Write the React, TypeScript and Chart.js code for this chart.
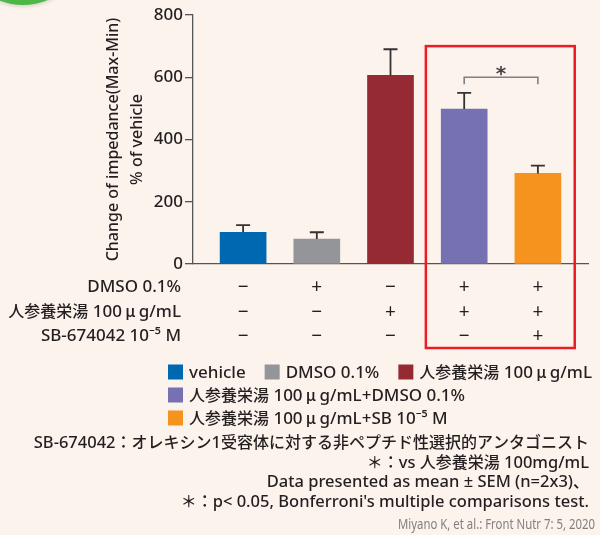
import React, { useEffect, useRef } from "react";
import { Chart, registerables } from "chart.js";
Chart.register(...registerables);

// ---- data ----
const groups = [
  "vehicle",
  "DMSO 0.1%",
  "人参養栄湯 100μg/mL",
  "人参養栄湯 100μg/mL+DMSO 0.1%",
  "人参養栄湯 100μg/mL+SB 10⁻⁵ M",
];
const means = [102, 80, 606, 498, 291];
const sems = [23, 22, 84, 52, 25];
const colors = ["#0067B1", "#939598", "#962A33", "#7672B2", "#F6921E"];
const yTicks = [0, 200, 400, 600, 800];
const yTitle = ["Change of impedance(Max-Min)", "% of vehicle"];
const rowLabels = ["DMSO 0.1%", "人参養栄湯 100μg/mL", "SB-674042 10⁻⁵ M"];
const dmsoRow = ["−", "+", "−", "+", "+"];
const extractRow = ["−", "−", "+", "+", "+"];
const sbRow = ["−", "−", "−", "−", "+"];
const legendRows = [[0, 1, 2], [3], [4]];
const sigPair = [3, 4];
const sigLevel = 600;
const sigMark = "*";
const boxRange = [2.48, 4.5];
const boxTopValue = 700;
const notes = [
  "SB-674042：オレキシン1受容体に対する非ペプチド性選択的アンタゴニスト",
  "＊：vs 人参養栄湯 100mg/mL",
  "Data presented as mean ± SEM (n=2x3)、",
  "＊：p< 0.05, Bonferroni's multiple comparisons test.",
];
const citation = "Miyano K, et al.: Front Nutr 7: 5, 2020";

const LATIN = "'Noto Sans', 'Noto Sans CJK JP', sans-serif";
const CJK = "'Noto Sans CJK JP', 'Noto Sans', sans-serif";
const TEXT = "#231F20";
const W = "500";

function kind(ch: string) {
  if (ch === "μ") return 2;
  return ch.charCodeAt(0) >= 0x3000 ? 1 : 0;
}

function drawRich(
  ctx: CanvasRenderingContext2D,
  text: string,
  x: number,
  baseline: number,
  align: "left" | "right" | "center",
  latinSize: number,
  cjkSize: number,
  color: string
) {
  const runs: { t: string; k: number; w: number }[] = [];
  for (const ch of Array.from(text)) {
    const k = kind(ch);
    const last = runs[runs.length - 1];
    if (last && last.k === k && k !== 2) last.t += ch;
    else runs.push({ t: ch, k, w: 0 });
  }
  const fontOf = (r: { k: number }) =>
    r.k === 0 ? `${W} ${latinSize}px ${LATIN}` : `${W} ${cjkSize}px ${CJK}`;
  let total = 0;
  for (const r of runs) {
    ctx.font = fontOf(r);
    r.w = r.k === 2 ? cjkSize * 1.05 : ctx.measureText(r.t).width;
    total += r.w;
  }
  let cx = align === "right" ? x - total : align === "center" ? x - total / 2 : x;
  ctx.textBaseline = "alphabetic";
  ctx.fillStyle = color;
  for (const r of runs) {
    ctx.font = fontOf(r);
    if (r.k === 2) {
      ctx.textAlign = "center";
      ctx.fillText(r.t, cx + r.w / 2, baseline);
    } else {
      ctx.textAlign = "left";
      ctx.fillText(r.t, cx, baseline);
    }
    cx += r.w;
  }
  return total;
}

const decor = {
  id: "decor",
  beforeDraw(chart: any) {
    const { ctx, width, height } = chart;
    ctx.save();
    ctx.fillStyle = "#FCF3ED";
    ctx.fillRect(0, 0, width, height);
    ctx.shadowColor = "rgba(0,0,0,0.18)";
    ctx.shadowBlur = 4;
    ctx.shadowOffsetY = 1;
    ctx.fillStyle = "#4DB748";
    ctx.beginPath();
    ctx.arc(23, -60, 65, 0, Math.PI * 2);
    ctx.fill();
    ctx.restore();
  },
  afterDatasetsDraw(chart: any) {
    const { ctx, scales, chartArea } = chart;
    const x = scales.x;
    const y = scales.y;
    const meta = chart.getDatasetMeta(0);
    ctx.save();
    // error bars
    ctx.strokeStyle = "#333";
    ctx.lineWidth = 1.8;
    meta.data.forEach((bar: any, i: number) => {
      const top = y.getPixelForValue(means[i] + sems[i]);
      const base = y.getPixelForValue(means[i]);
      ctx.beginPath();
      ctx.moveTo(bar.x, base);
      ctx.lineTo(bar.x, top);
      ctx.moveTo(bar.x - 7, top);
      ctx.lineTo(bar.x + 7, top);
      ctx.stroke();
    });
    // significance bracket
    const x1 = meta.data[sigPair[0]].x;
    const x2 = meta.data[sigPair[1]].x;
    const by = y.getPixelForValue(sigLevel);
    ctx.strokeStyle = "#808080";
    ctx.lineWidth = 1.6;
    ctx.beginPath();
    ctx.moveTo(x1, by + 7);
    ctx.lineTo(x1, by);
    ctx.lineTo(x2, by);
    ctx.lineTo(x2, by + 7);
    ctx.stroke();
    ctx.font = `bold 20px 'DejaVu Sans', ${LATIN}`;
    ctx.textAlign = "center";
    ctx.textBaseline = "alphabetic";
    ctx.fillStyle = "#444";
    ctx.fillText(sigMark, (x1 + x2) / 2, by + 3);
    // red highlight box
    const bl = x.getPixelForValue(boxRange[0]);
    const br = x.getPixelForValue(boxRange[1]);
    const bt = y.getPixelForValue(boxTopValue);
    const bb = chartArea.bottom + 84;
    ctx.strokeStyle = "#EC1C24";
    ctx.lineWidth = 2.5;
    ctx.strokeRect(bl, bt, br - bl, bb - bt);
    ctx.restore();
  },
  afterDraw(chart: any) {
    const { ctx, chartArea } = chart;
    const meta = chart.getDatasetMeta(0);
    ctx.save();
    // condition table
    const rows = [dmsoRow, extractRow, sbRow];
    rows.forEach((row, r) => {
      const base = chartArea.bottom + 28 + r * 24.5;
      drawRich(ctx, rowLabels[r], chartArea.left - 12, base, "right", 17, 16, TEXT);
      row.forEach((s, i) => {
        ctx.font = `19px ${LATIN}`;
        ctx.textAlign = "center";
        ctx.textBaseline = "alphabetic";
        ctx.fillStyle = TEXT;
        ctx.fillText(s, meta.data[i].x, base + 1);
      });
    });
    // legend
    legendRows.forEach((row, r) => {
      const cy = 372 + r * 23;
      let lx = 168;
      row.forEach((idx) => {
        ctx.fillStyle = colors[idx];
        ctx.fillRect(lx, cy - 7.5, 15, 15);
        const w = drawRich(ctx, groups[idx], lx + 21, cy + 6, "left", 17, 16, TEXT);
        lx += 21 + w + 19;
      });
    });
    // footnotes
    notes.forEach((n, i) => {
      drawRich(ctx, n, 589, 448 + i * 19.7, "right", 16.5, 16, TEXT);
    });
    ctx.font = `14px ${LATIN}`;
    ctx.textAlign = "right";
    ctx.textBaseline = "alphabetic";
    ctx.fillStyle = "#808080";
    ctx.fillText(citation, 595, 529, 197);
    ctx.restore();
  },
};

export default function App() {
  const ref = useRef<HTMLCanvasElement>(null);
  useEffect(() => {
    if (!ref.current) return;
    const chart = new Chart(ref.current, {
      type: "bar",
      data: {
        datasets: [
          {
            label: "Change of impedance",
            data: means.map((v, i) => ({ x: i, y: v })),
            backgroundColor: colors,
            borderWidth: 0,
            barThickness: 46,
          },
        ],
      },
      options: {
        animation: false,
        responsive: true,
        maintainAspectRatio: false,
        devicePixelRatio: 1,
        layout: { padding: { left: 101, top: 15, right: 12, bottom: 271 } },
        plugins: { legend: { display: false }, tooltip: { enabled: false } },
        scales: {
          x: {
            type: "linear",
            offset: false,
            min: -0.68,
            max: 4.68,
            ticks: { display: false },
            grid: { display: false, drawTicks: false, offset: false },
            border: { display: true, color: "#555", width: 1.3 },
          },
          y: {
            min: 0,
            max: 800,
            afterBuildTicks: (scale: any) => {
              scale.ticks = yTicks.map((v) => ({ value: v }));
            },
            afterFit: (scale: any) => {
              scale.width = 92;
            },
            ticks: {
              padding: 2,
              color: TEXT,
              font: { family: LATIN, size: 17, weight: W },
            },
            grid: {
              display: true,
              drawOnChartArea: false,
              drawTicks: true,
              tickLength: 8,
              color: "#555",
              lineWidth: 1.3,
            },
            border: { display: true, color: "#555", width: 1.3 },
            title: {
              display: true,
              text: yTitle,
              color: TEXT,
              font: { family: LATIN, size: 16, lineHeight: 1.5, weight: W },
              padding: { top: 0, bottom: 0 },
            },
          },
        },
      },
      plugins: [decor],
    } as any);
    return () => chart.destroy();
  }, []);
  return (
    <div
      style={{
        position: "fixed",
        left: 0,
        top: 0,
        width: 600,
        height: 535,
        background: "#FCF3ED",
      }}
    >
      <canvas ref={ref} />
    </div>
  );
}
